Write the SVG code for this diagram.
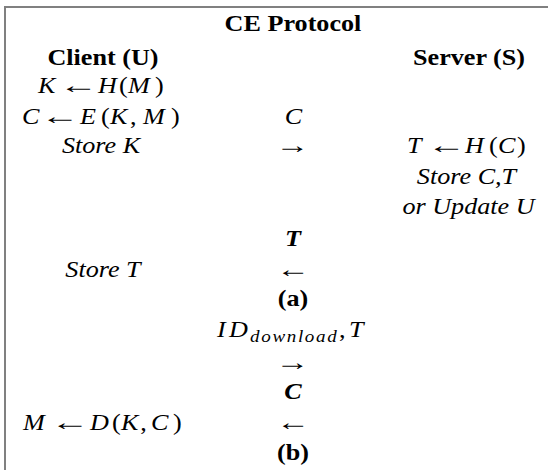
<svg xmlns="http://www.w3.org/2000/svg" width="548" height="470" viewBox="0 0 548 470">
<style>
text{font-family:"Liberation Serif","DejaVu Serif",serif;font-size:24px;fill:#000;text-anchor:middle}
.b{font-weight:bold}
.i{font-style:italic}
.s{text-anchor:start}
.ar{font-style:normal;font-weight:normal}
.sub{font-style:italic;font-size:17.5px;letter-spacing:1.5px}
.frame{stroke:#808080;stroke-width:2;fill:none}
</style>
<rect width="548" height="470" fill="#fff"/>
<path class="frame" d="M5,470 V7 H548"/>
<g transform="scale(1.09,1)">
<g id="title"><text class="b" x="268.8" y="31">CE Protocol</text></g>
<g id="client">
<text class="b" x="94.5" y="65">Client (U)</text>
<text class="s" y="93"><tspan class="i" x="34.9">K</tspan><tspan class="i" x="89.9">H</tspan><tspan x="109.2">(</tspan><tspan class="i" x="117.4">M</tspan><tspan x="142.2">)</tspan></text>
<text class="ar" transform="translate(72,93) scale(1.49,1)">←</text>
<text class="s" y="124"><tspan class="i" x="20.2">C</tspan><tspan class="i" x="73.4">E</tspan><tspan x="92.7">(</tspan><tspan class="i" x="100.9">K</tspan><tspan x="119.2">,</tspan><tspan class="i" x="131.2">M</tspan><tspan x="156.9">)</tspan></text>
<text class="ar" transform="translate(55,124) scale(1.49,1)">←</text>
<text class="i" x="92.7" y="153">Store K</text>
<text class="i" x="94.5" y="277">Store T</text>
<text class="s" y="430"><tspan class="i" x="21.1">M</tspan><tspan class="i" x="82.6">D</tspan><tspan x="102.8">(</tspan><tspan class="i" x="111">K</tspan><tspan x="128.6">,</tspan><tspan class="i" x="138.5">C</tspan><tspan x="158.7">)</tspan></text>
<text class="ar" transform="translate(64.2,430) scale(1.49,1)">←</text>
</g>
<g id="server">
<text class="b" x="430.3" y="65">Server (S)</text>
<text class="s" y="153"><tspan class="i" x="373.4">T</tspan><tspan class="i" x="426.6">H</tspan><tspan x="448.6">(</tspan><tspan class="i" x="456.9">C</tspan><tspan x="474.3">)</tspan></text>
<text class="ar" transform="translate(409.6,153) scale(1.49,1)">←</text>
<text class="i" x="428" y="184">Store C,T</text>
<text class="i" x="429.8" y="214">or Update U</text>
</g>
<g id="connectors">
<text class="i" x="269.3" y="124">C</text>
<text class="ar" transform="translate(268.3,153) scale(1.29,1)">→</text>
<text class="i b" x="268.8" y="246">T</text>
<text class="ar" transform="translate(268.8,277) scale(1.29,1)">←</text>
<text class="b" x="268.8" y="306">(a)</text>
<text class="s" y="337"><tspan class="i" x="199.1">I</tspan><tspan class="i" x="210.1">D</tspan><tspan class="sub" x="229.4" dy="5">download</tspan><tspan x="311" dy="-5">,</tspan><tspan class="i" x="320.2">T</tspan></text>
<text class="ar" transform="translate(268.3,370) scale(1.29,1)">→</text>
<text class="i b" x="268.8" y="399">C</text>
<text class="ar" transform="translate(268.8,430) scale(1.29,1)">←</text>
<text class="b" x="268.8" y="460">(b)</text>
</g>
</g>
</svg>
